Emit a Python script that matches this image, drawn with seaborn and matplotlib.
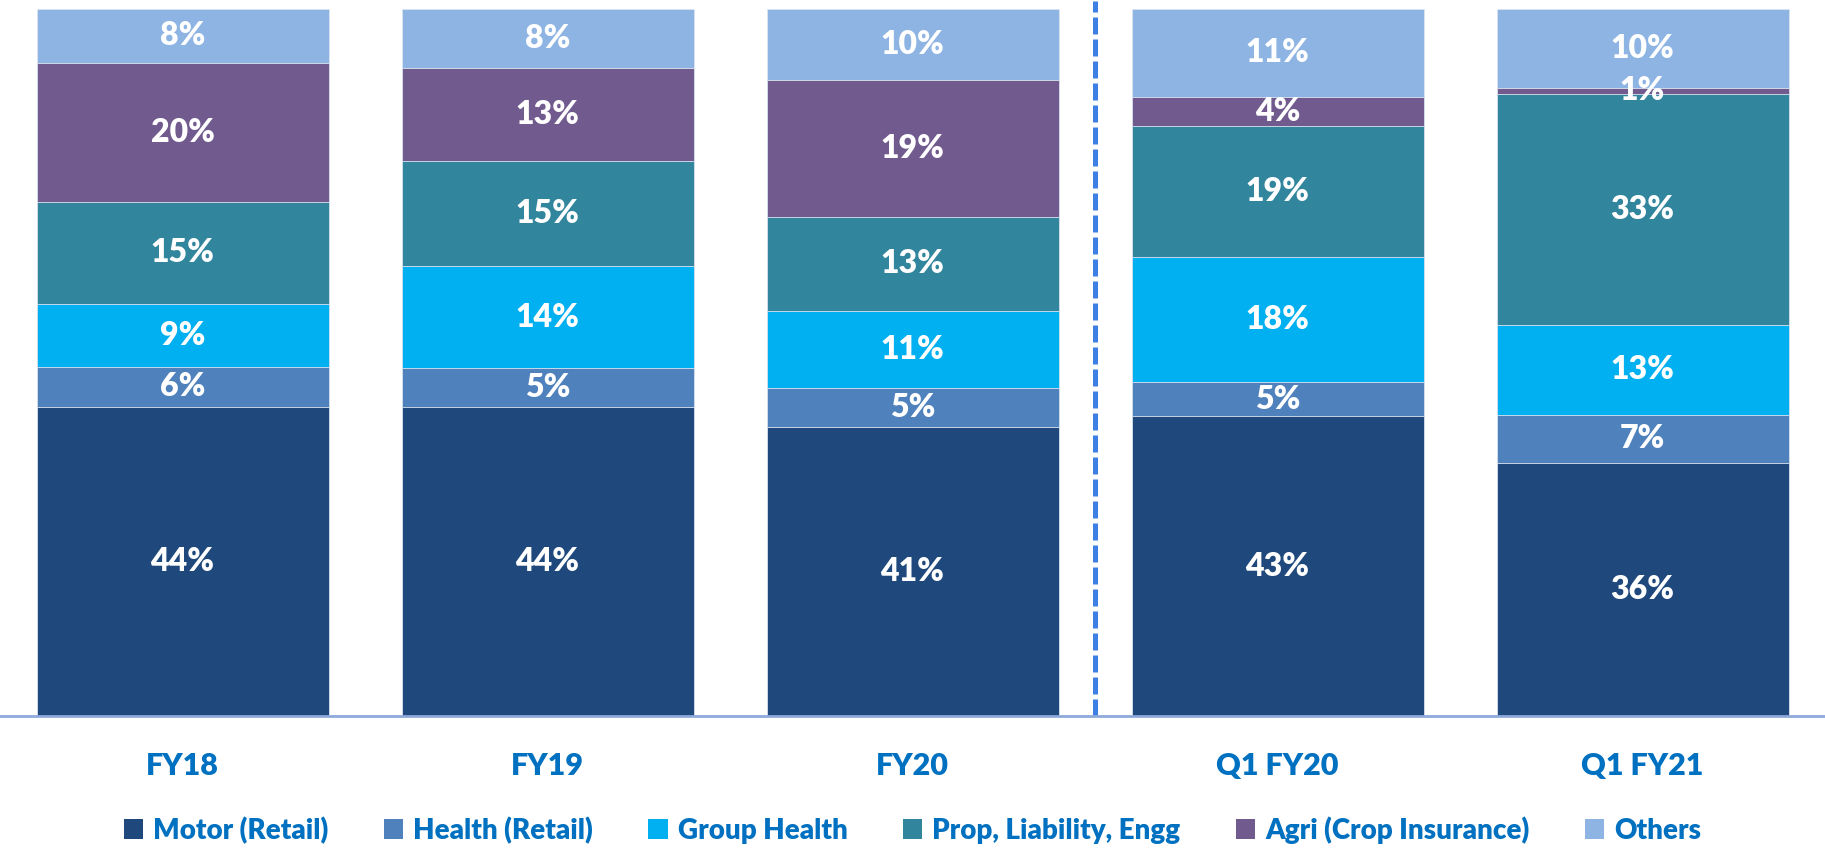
import pandas as pd
import numpy as np
import matplotlib.pyplot as plt
import seaborn as sns
from matplotlib.patches import Patch

# Segment mix per period (share of total, %), bottom to top
periods = ['FY18', 'FY19', 'FY20', 'Q1 FY20', 'Q1 FY21']
segments = ['Motor (Retail)', 'Health (Retail)', 'Group Health',
            'Prop, Liability, Engg', 'Agri (Crop Insurance)', 'Others']

motor = [43.7, 43.7, 40.9, 42.4, 35.8]
health = [5.7, 5.5, 5.5, 4.8, 6.8]
group_health = [8.9, 14.4, 10.9, 17.7, 12.7]
prop = [14.4, 14.9, 13.3, 18.5, 32.7]
agri = [19.7, 13.2, 19.4, 4.2, 0.85]
others = [7.6, 8.3, 10.0, 12.4, 11.2]

# labels as printed on the chart
motor_lbl = ['44%', '44%', '41%', '43%', '36%']
health_lbl = ['6%', '5%', '5%', '5%', '7%']
group_lbl = ['9%', '14%', '11%', '18%', '13%']
prop_lbl = ['15%', '15%', '13%', '19%', '33%']
agri_lbl = ['20%', '13%', '19%', '4%', '1%']
others_lbl = ['8%', '8%', '10%', '11%', '10%']

colors = ['#1F497D', '#4F81BD', '#00B0F0', '#31859C', '#705A8E', '#8EB4E3']
text_blue = '#0070C0'

values = [motor, health, group_health, prop, agri, others]
labels = [motor_lbl, health_lbl, group_lbl, prop_lbl, agri_lbl, others_lbl]

df = pd.DataFrame({'period': np.repeat(periods, len(segments)),
                   'segment': segments * len(periods),
                   'share': np.array(values).T.ravel()})
df['segment'] = pd.Categorical(df['segment'], categories=segments, ordered=True)
df = df.sort_values(['period', 'segment'])
df['top'] = df.groupby('period')['share'].cumsum()
df['bottom'] = df['top'] - df['share']

plt.rcParams['font.family'] = ['Lato', 'DejaVu Sans']

fig = plt.figure(figsize=(18.25, 8.65), dpi=100)
ax = fig.add_axes([0, 1 - 716 / 865, 1, 707 / 865])

# stacked bars: draw cumulative totals from the top segment down
for seg, col in reversed(list(zip(segments, colors))):
    d = df[df['segment'] == seg]
    sns.barplot(data=d, x='period', y='top', order=periods, color=col,
                width=0.8, saturation=1, edgecolor='#dce4f0', linewidth=0.6, ax=ax)

# value labels in each segment
for _, row in df.iterrows():
    i = periods.index(row['period'])
    j = segments.index(row['segment'])
    ax.text(i, (row['top'] + row['bottom']) / 2, labels[j][i],
            ha='center', va='center', color='white', fontsize=23, fontweight='heavy')

# dashed separator between full years and quarters
ax.axvline(2.5, ymin=0, ymax=1.012, color='#3D7FE3', lw=3.6,
           linestyle=(0, (3.4, 1.0)), clip_on=False)

ax.set_xlim(-0.5, 4.5)
ax.set_ylim(0, 100)
ax.set_xlabel('')
ax.set_ylabel('')
ax.set_yticks([])
ax.tick_params(axis='x', length=0, pad=26)
for t in ax.get_xticklabels():
    t.set_color(text_blue)
    t.set_fontsize(22)
    t.set_fontweight('heavy')
for s in ['top', 'left', 'right']:
    ax.spines[s].set_visible(False)
ax.spines['bottom'].set_color('#8EA9DB')
ax.spines['bottom'].set_linewidth(2)

handles = [Patch(facecolor=c, edgecolor='none') for c in colors]
fig.legend(handles, segments, loc='center', bbox_to_anchor=(0.5, 35 / 865),
           ncol=6, frameon=False, labelcolor=text_blue,
           prop={'weight': 'heavy', 'size': 20},
           handlelength=0.7, handleheight=0.7, handletextpad=0.35, columnspacing=2.0)

fig.savefig('out.png', dpi=100)
